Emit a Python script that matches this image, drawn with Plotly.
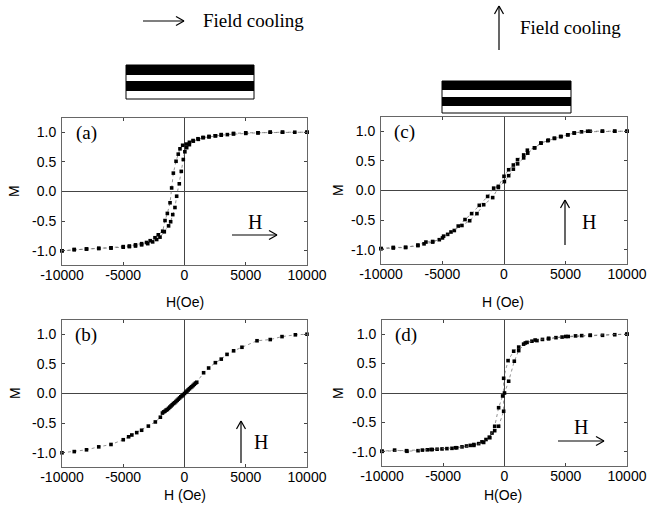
import plotly.graph_objects as go

W, H = 647, 505

# ---------------- data ----------------
# (a) in-plane cooling, in-plane field
H_a_down = [10000, 8000, 7000, 6000, 5000, 4000, 3000, 2500, 2000, 1500, 1100, 700, 400, 150, -150, -370,
            -510, -690, -910, -1050, -1180, -1400, -1590, -1780, -2140, -2410, -2800, -3100, -3500, -4000,
            -4500, -5000, -6000, -7000, -8000, -9000, -10000]
M_a_down = [1.0, 1.0, 1.0, 0.99, 0.99, 0.98, 0.96, 0.94, 0.93, 0.91, 0.89, 0.86, 0.83, 0.80, 0.78, 0.72,
            0.63, 0.51, 0.31, 0.06, -0.19, -0.37, -0.49, -0.67, -0.73, -0.78, -0.83, -0.86, -0.88, -0.90,
            -0.92, -0.93, -0.95, -0.96, -0.97, -0.98, -1.0]
H_a_up = [-10000, -9000, -8000, -7000, -6000, -5000, -4500, -4000, -3500, -3000, -2600, -2270, -2000, -1650,
          -1300, -1130, -960, -780, -640, -425, -262, -98, 30, 180, 400, 720, 1130, 1540, 2000, 2540, 3000,
          3500, 4000, 5000, 6000, 7000, 8000, 9000, 10000]
M_a_up = [-1.0, -0.98, -0.97, -0.96, -0.955, -0.94, -0.93, -0.92, -0.90, -0.88, -0.85, -0.81, -0.77, -0.68,
          -0.58, -0.51, -0.39, -0.27, -0.08, 0.13, 0.34, 0.54, 0.67, 0.74, 0.79, 0.85, 0.88, 0.91, 0.92, 0.94,
          0.95, 0.96, 0.97, 0.98, 0.99, 1.0, 1.0, 1.0, 1.0]

# (b) in-plane cooling, perpendicular field
H_b = [-10000, -9000, -8000, -7000, -6000, -5000, -4560, -4300, -3900, -3500, -2950, -2380, -1970,
       -1800, -1700, -1600, -1500, -1400, -1300, -1200, -1100, -1000, -900, -800, -700, -600, -500,
       -400, -300, -200, -100, 0, 100, 200, 300, 400, 500, 600, 700, 800, 900, 1000, 1560, 1970, 2520,
       3000, 3470, 4010, 4690, 5920, 7000, 7960, 9050, 10000]
M_b = [-1.0, -0.98, -0.95, -0.90, -0.86, -0.78, -0.73, -0.70, -0.66, -0.62, -0.55, -0.48, -0.40,
       -0.33, -0.31, -0.30, -0.28, -0.27, -0.25, -0.23, -0.21, -0.19, -0.17, -0.155, -0.135, -0.115, -0.095,
       -0.075, -0.055, -0.04, -0.02, 0.0, 0.02, 0.04, 0.06, 0.08, 0.10, 0.115, 0.135, 0.155, 0.175, 0.19,
       0.35, 0.43, 0.52, 0.58, 0.66, 0.72, 0.78, 0.89, 0.91, 0.96, 0.99, 1.0]

# (c) perpendicular cooling, perpendicular field
H_c_down = [10000, 9000, 8000, 7000, 6300, 5700, 5200, 4600, 4100, 3600, 3000, 2500, 1900, 1600, 1100, 760,
            380, 0, -460, -840, -1330, -2010, -2630, -3170, -3720, -4040, -4580, -4910, -5260, -5800, -6350,
            -7000, -8000, -9000, -10000]
M_c_down = [1.0, 1.0, 1.0, 1.0, 0.99, 0.97, 0.94, 0.91, 0.88, 0.85, 0.80, 0.72, 0.68, 0.60, 0.52, 0.43,
            0.35, 0.24, 0.07, 0.04, -0.10, -0.25, -0.39, -0.49, -0.60, -0.675, -0.74, -0.77, -0.83, -0.86, -0.87,
            -0.92, -0.96, -0.96, -0.98]
H_c_up = [-10000, -9000, -8000, -7000, -6500, -5800, -5000, -4310, -3420, -2790, -2200, -1650, -920, -460,
          30, 380, 760, 1110, 1600, 1930, 2470, 3010, 3560, 4100, 4640, 5180, 5720, 6800, 8000, 9000, 10000]
M_c_up = [-0.98, -0.97, -0.96, -0.93, -0.90, -0.87, -0.80, -0.70, -0.59, -0.51, -0.39, -0.24, -0.12, 0.05,
          0.15, 0.25, 0.36, 0.45, 0.55, 0.63, 0.72, 0.80, 0.84, 0.88, 0.91, 0.94, 0.97, 1.0, 1.0, 1.0, 1.0]

# (d) perpendicular cooling, in-plane field
H_d_down = [10000, 9000, 8000, 7000, 6300, 5800, 5200, 4700, 4200, 3600, 3100, 2650, 2240, 1840, 1560, 1160,
            750, 290, -70, -70, -480, -800, -1020, -1240, -1510, -1840, -2110, -2500, -2790, -3100, -3470,
            -3900, -4290, -4700, -5100, -5500, -5900, -6300, -6700, -7060, -7960, -8970, -10000]
M_d_down = [1.0, 0.99, 0.98, 0.98, 0.975, 0.97, 0.96, 0.95, 0.94, 0.92, 0.91, 0.89, 0.88, 0.86, 0.83, 0.78,
            0.71, 0.55, 0.25, -0.31, -0.565, -0.64, -0.68, -0.75, -0.79, -0.83, -0.86, -0.875, -0.89, -0.90, -0.915,
            -0.93, -0.94, -0.945, -0.95, -0.955, -0.96, -0.965, -0.97, -0.98, -0.99, -0.97, -0.99]
H_d_up = [-10000, -8000, -6000, -4000, -2500, -1700, -1200, -800, -480, -150, 0, 340, 800, 1160, 1700,
          2500, 3600, 5000, 7000, 10000]
M_d_up = [-0.99, -0.98, -0.96, -0.93, -0.89, -0.84, -0.76, -0.565, -0.25, -0.05, 0.0, 0.20, 0.54, 0.72, 0.85,
          0.90, 0.93, 0.96, 0.98, 1.0]

x_ticks = [-10000, -5000, 0, 5000, 10000]
y_ticks = [-1.0, -0.5, 0.0, 0.5, 1.0]
y_labels = ["-1.0", "-0.5", "0.0", "0.5", "1.0"]

panel_labels = ["(a)", "(c)", "(b)", "(d)"]
x_titles = ["H(Oe)", "H (Oe)", "H (Oe)", "H(Oe)"]

# ---------------- helpers ----------------
def px(x):
    return x / W

def py(y):
    return 1 - y / H

fig = go.Figure()

series = [
    [(H_a_down, M_a_down), (H_a_up, M_a_up)],
    [(H_c_down, M_c_down), (H_c_up, M_c_up)],
    [(H_b, M_b)],
    [(H_d_down, M_d_down), (H_d_up, M_d_up)],
]

# pixel frames: left, right, top, bottom
frames = [(62, 307, 118, 265), (381, 627, 117, 264), (62, 307, 320, 467), (382, 627, 320, 466)]

for i, panel in enumerate(series):
    sfx = "" if i == 0 else str(i + 1)
    for hx, my in panel:
        fig.add_trace(go.Scatter(
            x=hx, y=my, xaxis="x" + sfx, yaxis="y" + sfx, mode="lines+markers",
            line=dict(color="#666", width=0.7, dash="dot"),
            marker=dict(symbol="square", size=3.6, color="black"),
            cliponaxis=False, showlegend=False, hoverinfo="skip"))

layout = dict(width=W, height=H, autosize=False, margin=dict(l=0, r=0, t=0, b=0, pad=0),
              paper_bgcolor="white", plot_bgcolor="white", showlegend=False)

axis_font = dict(family="Liberation Sans, Arial, sans-serif", size=14, color="black")
for i, (l, r, t, b) in enumerate(frames):
    sfx = "" if i == 0 else str(i + 1)
    layout["xaxis" + sfx] = dict(
        domain=[px(l), px(r)], anchor="y" + sfx, range=[-10000, 10000], automargin=False,
        tickvals=x_ticks, ticktext=[str(v) for v in x_ticks],
        ticks="inside", ticklen=3, tickcolor="#444", mirror="ticks",
        showline=True, linecolor="#666", linewidth=1, showgrid=False,
        zeroline=True, zerolinecolor="#444", zerolinewidth=1,
        tickfont=axis_font, fixedrange=True, ticklabelstandoff=-3)
    layout["yaxis" + sfx] = dict(
        domain=[py(b), py(t)], anchor="x" + sfx, range=[-1.24, 1.24], automargin=False,
        tickvals=y_ticks, ticktext=y_labels,
        ticks="inside", ticklen=3, tickcolor="#444", mirror="ticks",
        showline=True, linecolor="#666", linewidth=1, showgrid=False,
        zeroline=True, zerolinecolor="#444", zerolinewidth=1,
        tickfont=axis_font, fixedrange=True, ticklabelstandoff=2)

annotations = []
shapes = []

serif = "Liberation Serif, Times New Roman, serif"

def text(x, y, s, size=14, family="Liberation Sans, Arial, sans-serif", angle=0):
    annotations.append(dict(x=px(x), y=py(y), xref="paper", yref="paper", text=s, showarrow=False,
                            font=dict(family=family, size=size, color="black"), textangle=angle,
                            xanchor="center", yanchor="middle"))

# panel labels and axis titles
label_pos = [(86, 133), (404, 132), (86, 335), (406, 335)]
mtitle_pos = [(14, 191), (338, 190), (15, 393), (338, 393)]
htitle_pos = [(185, 302), (503, 302), (185, 495), (503, 495)]
for i in range(4):
    text(*label_pos[i], panel_labels[i], size=19, family=serif)
    text(*mtitle_pos[i], "M", size=14, angle=-90)
    text(*htitle_pos[i], x_titles[i], size=14)

# H field labels
text(255, 222, "H", size=20, family=serif)
text(589, 222, "H", size=20, family=serif)
text(261, 442, "H", size=20, family=serif)
text(581, 427, "H", size=20, family=serif)

# Field cooling labels
text(253, 20, "Field cooling", size=19, family=serif)
text(570, 27, "Field cooling", size=19, family=serif)

def line(x0, y0, x1, y1, w=1.2):
    shapes.append(dict(type="line", xref="paper", yref="paper", x0=px(x0), y0=py(y0), x1=px(x1), y1=py(y1),
                       line=dict(color="black", width=w)))

def harrow(x0, x1, y):
    line(x0, y, x1, y)
    line(x1 - 8, y - 4.5, x1, y)
    line(x1 - 8, y + 4.5, x1, y)

def varrow(x, y0, y1):
    line(x, y0, x, y1)
    line(x - 4.5, y1 + 8, x, y1)
    line(x + 4.5, y1 + 8, x, y1)

harrow(143, 184, 21)
varrow(499, 50, 6)
harrow(232, 277, 235)
varrow(565, 245, 200)
varrow(241, 463, 421)
harrow(558, 604, 441)

def rect(x0, y0, x1, y1, fill, lw=0):
    shapes.append(dict(type="rect", xref="paper", yref="paper", x0=px(x0), y0=py(y0), x1=px(x1), y1=py(y1),
                       fillcolor=fill, line=dict(color="black", width=lw)))

def stack(x0, x1, ys):
    # ys: boundaries top->bottom: black, white, black, white
    rect(x0, ys[0], x1, ys[4], "white", 1)
    rect(x0, ys[0], x1, ys[1], "black")
    rect(x0, ys[2], x1, ys[3], "black")

stack(126, 254, [65, 75, 81, 91, 99])
stack(442, 571, [81, 90, 97, 106, 113])

layout["annotations"] = annotations
layout["shapes"] = shapes
fig.update_layout(**layout)
fig.write_html("out.html", config={"displayModeBar": False},
               post_script="document.body.style.margin='0';document.body.style.padding='0';")
